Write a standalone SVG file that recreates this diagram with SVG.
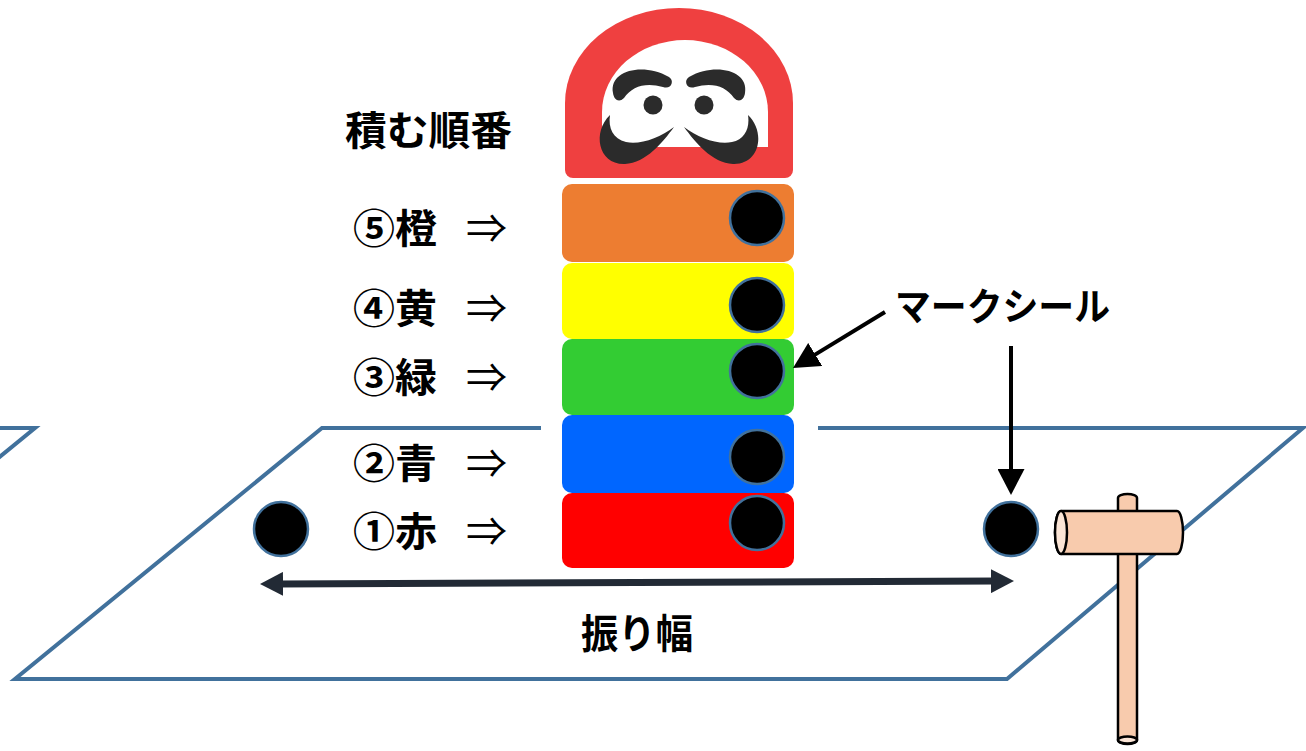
<svg xmlns="http://www.w3.org/2000/svg" width="1306" height="751" viewBox="0 0 1306 751">
  <defs>
    <style>
      .ground { fill: none; stroke: #41719c; stroke-width: 4; stroke-linejoin: miter; }
      .label { font-family: "Noto Sans CJK JP", "Noto Sans", sans-serif; font-weight: 700; fill: #000; }
      .arrowsym { font-family: "Noto Sans CJK JP", "DejaVu Sans", sans-serif; font-weight: 400; fill: #000; }
      .block { stroke: none; }
      .seal { fill: #000; stroke: #41719c; stroke-width: 2.5; }
      .ink { fill: #2b2b2b; }
      .wood { fill: #f8cbad; stroke: #000; stroke-width: 2.5; stroke-linejoin: round; }
      .woodend { fill: #fbe5d6; stroke: #000; stroke-width: 2.5; }
      .pointer { stroke: #000; stroke-width: 4; fill: none; }
      .span { stroke: #222a35; stroke-width: 7; fill: none; }
    </style>
    <marker id="headBlack" markerUnits="userSpaceOnUse" viewBox="0 0 26 27" refX="6" refY="13.5" markerWidth="26" markerHeight="27" orient="auto">
      <path d="M0,0 L26,13.5 L0,27 Z" fill="#000"/>
    </marker>
    <marker id="headDark" markerUnits="userSpaceOnUse" viewBox="0 0 23 24" refX="5" refY="12" markerWidth="23" markerHeight="24" orient="auto-start-reverse">
      <path d="M0,0 L23,12 L0,24 Z" fill="#222a35"/>
    </marker>
  </defs>

  <rect width="1306" height="751" fill="#fff"/>

  <!-- ground plane -->
  <g id="ground">
    <polyline class="ground" points="-10,428 35,428 -5,460.7"/>
    <polygon class="ground" points="322,428 1303,428 1007,679 15,679"/>
  </g>

  <!-- stacked daruma -->
  <g id="daruma">
    <rect x="541" y="0" width="277" height="576" fill="#fff"/>
    <path d="M565,170 V103 A114,95 0 0 1 793,103 V170 A8,8 0 0 1 785,178 H573 A8,8 0 0 1 565,170 Z" fill="#ef4040"/>
    <path d="M602,147 V112 A83,72 0 0 1 768,112 V147 Z" fill="#fff"/>
    <path class="ink" d="M613,93 C609,71 642,62 669,77 C675,81 671,90 663,87 C646,82 632,86 624,98 C619,103 614,100 613,93 Z"/>
    <path class="ink" d="M745,93 C749,71 716,62 689,77 C683,81 687,90 695,87 C712,82 726,86 734,98 C739,103 744,100 745,93 Z"/>
    <circle class="ink" cx="653" cy="105" r="9.5"/>
    <circle class="ink" cx="704" cy="105" r="9.5"/>
    <path class="ink" d="M610,115 C592,132 598,165 625,164 C646,163 663,142 674,127 C660,138 640,145 626,142 C613,139 608,128 610,115 Z"/>
    <path class="ink" d="M748,115 C766,132 760,165 733,164 C712,163 695,142 684,127 C698,138 718,145 732,142 C745,139 750,128 748,115 Z"/>
  </g>

  <g id="block-orange">
    <rect class="block" x="562" y="184" width="232" height="78" rx="10" fill="#ed7d31"/>
    <circle class="seal" cx="757" cy="218" r="27"/>
  </g>
  <g id="block-yellow">
    <rect class="block" x="562" y="263" width="232" height="76" rx="10" fill="#ffff00"/>
    <circle class="seal" cx="757" cy="305" r="27"/>
  </g>
  <g id="block-green">
    <rect class="block" x="562" y="339" width="232" height="76" rx="10" fill="#33cc33"/>
    <circle class="seal" cx="757" cy="371" r="27"/>
  </g>
  <g id="block-blue">
    <rect class="block" x="562" y="415" width="232" height="78" rx="10" fill="#0066ff"/>
    <circle class="seal" cx="757" cy="457" r="27"/>
  </g>
  <g id="block-red">
    <rect class="block" x="562" y="493" width="232" height="75" rx="10" fill="#ff0000"/>
    <circle class="seal" cx="757" cy="523" r="27"/>
  </g>

  <!-- swing end marks -->
  <g id="mark-left">
    <circle class="seal" cx="281" cy="529" r="27"/>
  </g>
  <g id="mark-right">
    <circle class="seal" cx="1011" cy="529" r="27"/>
  </g>

  <!-- labels -->
  <g id="order-title">
    <text class="label" x="345" y="145" font-size="40" textLength="167" lengthAdjust="spacingAndGlyphs">積む順番</text>
  </g>
  <g id="order-5">
    <text class="label" x="353" y="243" font-size="40" textLength="84" lengthAdjust="spacingAndGlyphs">⑤橙</text>
    <text class="arrowsym" x="466" y="243" font-size="40" textLength="41" lengthAdjust="spacingAndGlyphs">⇒</text>
  </g>
  <g id="order-4">
    <text class="label" x="353" y="323" font-size="40" textLength="84" lengthAdjust="spacingAndGlyphs">④黄</text>
    <text class="arrowsym" x="466" y="323" font-size="40" textLength="41" lengthAdjust="spacingAndGlyphs">⇒</text>
  </g>
  <g id="order-3">
    <text class="label" x="353" y="392" font-size="40" textLength="84" lengthAdjust="spacingAndGlyphs">③緑</text>
    <text class="arrowsym" x="466" y="392" font-size="40" textLength="41" lengthAdjust="spacingAndGlyphs">⇒</text>
  </g>
  <g id="order-2">
    <text class="label" x="353" y="478" font-size="40" textLength="84" lengthAdjust="spacingAndGlyphs">②青</text>
    <text class="arrowsym" x="466" y="478" font-size="40" textLength="41" lengthAdjust="spacingAndGlyphs">⇒</text>
  </g>
  <g id="order-1">
    <text class="label" x="353" y="546" font-size="40" textLength="84" lengthAdjust="spacingAndGlyphs">①赤</text>
    <text class="arrowsym" x="466" y="546" font-size="40" textLength="41" lengthAdjust="spacingAndGlyphs">⇒</text>
  </g>
  <g id="seal-label">
    <text class="label" x="895" y="320" font-size="38" textLength="215" lengthAdjust="spacingAndGlyphs">マークシール</text>
  </g>
  <g id="swing-label">
    <text class="label" x="581" y="648" font-size="40" textLength="112" lengthAdjust="spacingAndGlyphs">振り幅</text>
  </g>

  <!-- mallet -->
  <g id="mallet">
    <path class="wood" d="M1118,740 V498 A9.5,4 0 0 1 1137,498 V740 A9.5,4 0 0 1 1118,740 Z"/>
    <ellipse class="woodend" cx="1127.5" cy="740" rx="9.5" ry="3.5"/>
    <path class="wood" d="M1061,511 H1177 A6,21.5 0 0 1 1177,554 H1061 A6,21.5 0 0 1 1061,511 Z"/>
    <ellipse class="woodend" cx="1061" cy="532.5" rx="6" ry="21.5"/>
  </g>

  <!-- connectors -->
  <g id="connectors">
    <line class="pointer" x1="885" y1="312" x2="810.1" y2="357.6" marker-end="url(#headBlack)"/>
    <line class="pointer" x1="1011" y1="346" x2="1011" y2="475" marker-end="url(#headBlack)"/>
    <line class="span" x1="278" y1="583.9" x2="996" y2="581.1" marker-start="url(#headDark)" marker-end="url(#headDark)"/>
  </g>
</svg>
